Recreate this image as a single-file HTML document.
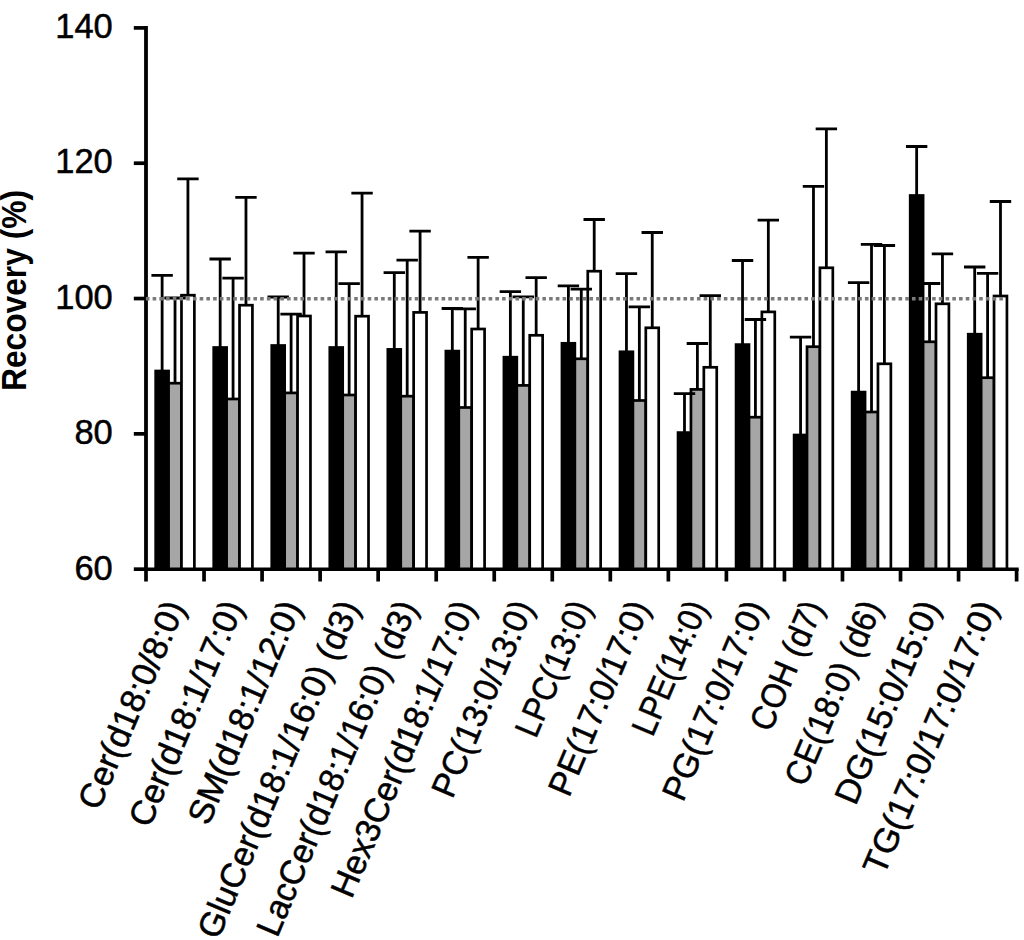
<!DOCTYPE html>
<html><head><meta charset="utf-8"><title>Recovery chart</title>
<style>html,body{margin:0;padding:0;background:#fff;}svg{display:block;}text{font-family:"Liberation Sans",sans-serif;fill:#000;}.t{stroke:#000;stroke-width:0.5;}</style>
</head><body>
<svg width="1024" height="940" viewBox="0 0 1024 940">
<rect width="1024" height="940" fill="#fff"/>
<rect x="155.68" y="371" width="12.9" height="198.35" fill="#000" stroke="#000" stroke-width="2.7"/>
<rect x="168.58" y="383.2" width="12.9" height="186.15" fill="#a6a6a6" stroke="#000" stroke-width="2.7"/>
<rect x="181.48" y="295.2" width="12.9" height="274.15" fill="#fff" stroke="#000" stroke-width="2.7"/>
<rect x="213.72" y="347.5" width="12.9" height="221.85" fill="#000" stroke="#000" stroke-width="2.7"/>
<rect x="226.62" y="399" width="12.9" height="170.35" fill="#a6a6a6" stroke="#000" stroke-width="2.7"/>
<rect x="239.52" y="305.2" width="12.9" height="264.15" fill="#fff" stroke="#000" stroke-width="2.7"/>
<rect x="271.76" y="345.5" width="12.9" height="223.85" fill="#000" stroke="#000" stroke-width="2.7"/>
<rect x="284.66" y="392.9" width="12.9" height="176.45" fill="#a6a6a6" stroke="#000" stroke-width="2.7"/>
<rect x="297.56" y="316" width="12.9" height="253.35" fill="#fff" stroke="#000" stroke-width="2.7"/>
<rect x="329.8" y="347.5" width="12.9" height="221.85" fill="#000" stroke="#000" stroke-width="2.7"/>
<rect x="342.7" y="395" width="12.9" height="174.35" fill="#a6a6a6" stroke="#000" stroke-width="2.7"/>
<rect x="355.6" y="316.2" width="12.9" height="253.15" fill="#fff" stroke="#000" stroke-width="2.7"/>
<rect x="387.84" y="349.4" width="12.9" height="219.95" fill="#000" stroke="#000" stroke-width="2.7"/>
<rect x="400.74" y="396.2" width="12.9" height="173.15" fill="#a6a6a6" stroke="#000" stroke-width="2.7"/>
<rect x="413.64" y="312.4" width="12.9" height="256.95" fill="#fff" stroke="#000" stroke-width="2.7"/>
<rect x="445.88" y="351.1" width="12.9" height="218.25" fill="#000" stroke="#000" stroke-width="2.7"/>
<rect x="458.78" y="407.5" width="12.9" height="161.85" fill="#a6a6a6" stroke="#000" stroke-width="2.7"/>
<rect x="471.68" y="329" width="12.9" height="240.35" fill="#fff" stroke="#000" stroke-width="2.7"/>
<rect x="503.92" y="357.2" width="12.9" height="212.15" fill="#000" stroke="#000" stroke-width="2.7"/>
<rect x="516.82" y="385.4" width="12.9" height="183.95" fill="#a6a6a6" stroke="#000" stroke-width="2.7"/>
<rect x="529.72" y="335.3" width="12.9" height="234.05" fill="#fff" stroke="#000" stroke-width="2.7"/>
<rect x="561.96" y="343.3" width="12.9" height="226.05" fill="#000" stroke="#000" stroke-width="2.7"/>
<rect x="574.86" y="358.8" width="12.9" height="210.55" fill="#a6a6a6" stroke="#000" stroke-width="2.7"/>
<rect x="587.76" y="271.2" width="12.9" height="298.15" fill="#fff" stroke="#000" stroke-width="2.7"/>
<rect x="620" y="351.8" width="12.9" height="217.55" fill="#000" stroke="#000" stroke-width="2.7"/>
<rect x="632.9" y="400.5" width="12.9" height="168.85" fill="#a6a6a6" stroke="#000" stroke-width="2.7"/>
<rect x="645.8" y="327.8" width="12.9" height="241.55" fill="#fff" stroke="#000" stroke-width="2.7"/>
<rect x="678.04" y="432.6" width="12.9" height="136.75" fill="#000" stroke="#000" stroke-width="2.7"/>
<rect x="690.94" y="389.4" width="12.9" height="179.95" fill="#a6a6a6" stroke="#000" stroke-width="2.7"/>
<rect x="703.84" y="367.3" width="12.9" height="202.05" fill="#fff" stroke="#000" stroke-width="2.7"/>
<rect x="736.08" y="344.6" width="12.9" height="224.75" fill="#000" stroke="#000" stroke-width="2.7"/>
<rect x="748.98" y="417.2" width="12.9" height="152.15" fill="#a6a6a6" stroke="#000" stroke-width="2.7"/>
<rect x="761.88" y="311.9" width="12.9" height="257.45" fill="#fff" stroke="#000" stroke-width="2.7"/>
<rect x="794.12" y="435" width="12.9" height="134.35" fill="#000" stroke="#000" stroke-width="2.7"/>
<rect x="807.02" y="346.7" width="12.9" height="222.65" fill="#a6a6a6" stroke="#000" stroke-width="2.7"/>
<rect x="819.92" y="267.8" width="12.9" height="301.55" fill="#fff" stroke="#000" stroke-width="2.7"/>
<rect x="852.16" y="392.1" width="12.9" height="177.25" fill="#000" stroke="#000" stroke-width="2.7"/>
<rect x="865.06" y="412" width="12.9" height="157.35" fill="#a6a6a6" stroke="#000" stroke-width="2.7"/>
<rect x="877.96" y="363.8" width="12.9" height="205.55" fill="#fff" stroke="#000" stroke-width="2.7"/>
<rect x="910.2" y="195.5" width="12.9" height="373.85" fill="#000" stroke="#000" stroke-width="2.7"/>
<rect x="923.1" y="341.8" width="12.9" height="227.55" fill="#a6a6a6" stroke="#000" stroke-width="2.7"/>
<rect x="936" y="303.8" width="12.9" height="265.55" fill="#fff" stroke="#000" stroke-width="2.7"/>
<rect x="968.24" y="334.2" width="12.9" height="235.15" fill="#000" stroke="#000" stroke-width="2.7"/>
<rect x="981.14" y="377.7" width="12.9" height="191.65" fill="#a6a6a6" stroke="#000" stroke-width="2.7"/>
<rect x="994.04" y="296" width="12.9" height="273.35" fill="#fff" stroke="#000" stroke-width="2.7"/>
<path d="M162.13 371V275.4M151.43 275.4H172.83" stroke="#000" stroke-width="2.8" fill="none"/>
<path d="M175.03 383.2V298M164.33 298H185.73" stroke="#000" stroke-width="2.8" fill="none"/>
<path d="M187.93 295.2V178.8M177.23 178.8H198.63" stroke="#000" stroke-width="2.8" fill="none"/>
<path d="M220.17 347.5V259M209.47 259H230.87" stroke="#000" stroke-width="2.8" fill="none"/>
<path d="M233.07 399V278.1M222.37 278.1H243.77" stroke="#000" stroke-width="2.8" fill="none"/>
<path d="M245.97 305.2V197.3M235.27 197.3H256.67" stroke="#000" stroke-width="2.8" fill="none"/>
<path d="M278.21 345.5V297M267.51 297H288.91" stroke="#000" stroke-width="2.8" fill="none"/>
<path d="M291.11 392.9V314.1M280.41 314.1H301.81" stroke="#000" stroke-width="2.8" fill="none"/>
<path d="M304.01 316V253.2M293.31 253.2H314.71" stroke="#000" stroke-width="2.8" fill="none"/>
<path d="M336.25 347.5V251.8M325.55 251.8H346.95" stroke="#000" stroke-width="2.8" fill="none"/>
<path d="M349.15 395V283.7M338.45 283.7H359.85" stroke="#000" stroke-width="2.8" fill="none"/>
<path d="M362.05 316.2V193.2M351.35 193.2H372.75" stroke="#000" stroke-width="2.8" fill="none"/>
<path d="M394.29 349.4V272.6M383.59 272.6H404.99" stroke="#000" stroke-width="2.8" fill="none"/>
<path d="M407.19 396.2V260.1M396.49 260.1H417.89" stroke="#000" stroke-width="2.8" fill="none"/>
<path d="M420.09 312.4V231.1M409.39 231.1H430.79" stroke="#000" stroke-width="2.8" fill="none"/>
<path d="M452.33 351.1V308.5M441.63 308.5H463.03" stroke="#000" stroke-width="2.8" fill="none"/>
<path d="M465.23 407.5V308.8M454.53 308.8H475.93" stroke="#000" stroke-width="2.8" fill="none"/>
<path d="M478.13 329V257.4M467.43 257.4H488.83" stroke="#000" stroke-width="2.8" fill="none"/>
<path d="M510.37 357.2V291.7M499.67 291.7H521.07" stroke="#000" stroke-width="2.8" fill="none"/>
<path d="M523.27 385.4V296.9M512.57 296.9H533.97" stroke="#000" stroke-width="2.8" fill="none"/>
<path d="M536.17 335.3V277.6M525.47 277.6H546.87" stroke="#000" stroke-width="2.8" fill="none"/>
<path d="M568.41 343.3V285.9M557.71 285.9H579.11" stroke="#000" stroke-width="2.8" fill="none"/>
<path d="M581.31 358.8V289.2M570.61 289.2H592.01" stroke="#000" stroke-width="2.8" fill="none"/>
<path d="M594.21 271.2V219.5M583.51 219.5H604.91" stroke="#000" stroke-width="2.8" fill="none"/>
<path d="M626.45 351.8V273.6M615.75 273.6H637.15" stroke="#000" stroke-width="2.8" fill="none"/>
<path d="M639.35 400.5V306.8M628.65 306.8H650.05" stroke="#000" stroke-width="2.8" fill="none"/>
<path d="M652.25 327.8V232.5M641.55 232.5H662.95" stroke="#000" stroke-width="2.8" fill="none"/>
<path d="M684.49 432.6V393.6M673.79 393.6H695.19" stroke="#000" stroke-width="2.8" fill="none"/>
<path d="M697.39 389.4V343.5M686.69 343.5H708.09" stroke="#000" stroke-width="2.8" fill="none"/>
<path d="M710.29 367.3V295.7M699.59 295.7H720.99" stroke="#000" stroke-width="2.8" fill="none"/>
<path d="M742.53 344.6V260.5M731.83 260.5H753.23" stroke="#000" stroke-width="2.8" fill="none"/>
<path d="M755.43 417.2V319.5M744.73 319.5H766.13" stroke="#000" stroke-width="2.8" fill="none"/>
<path d="M768.33 311.9V220.2M757.63 220.2H779.03" stroke="#000" stroke-width="2.8" fill="none"/>
<path d="M800.57 435V337.1M789.87 337.1H811.27" stroke="#000" stroke-width="2.8" fill="none"/>
<path d="M813.47 346.7V186.4M802.77 186.4H824.17" stroke="#000" stroke-width="2.8" fill="none"/>
<path d="M826.37 267.8V128.8M815.67 128.8H837.07" stroke="#000" stroke-width="2.8" fill="none"/>
<path d="M858.61 392.1V282.6M847.91 282.6H869.31" stroke="#000" stroke-width="2.8" fill="none"/>
<path d="M871.51 412V244.3M860.81 244.3H882.21" stroke="#000" stroke-width="2.8" fill="none"/>
<path d="M884.41 363.8V245.5M873.71 245.5H895.11" stroke="#000" stroke-width="2.8" fill="none"/>
<path d="M916.65 195.5V146.5M905.95 146.5H927.35" stroke="#000" stroke-width="2.8" fill="none"/>
<path d="M929.55 341.8V283.5M918.85 283.5H940.25" stroke="#000" stroke-width="2.8" fill="none"/>
<path d="M942.45 303.8V253.8M931.75 253.8H953.15" stroke="#000" stroke-width="2.8" fill="none"/>
<path d="M974.69 334.2V267M963.99 267H985.39" stroke="#000" stroke-width="2.8" fill="none"/>
<path d="M987.59 377.7V273.4M976.89 273.4H998.29" stroke="#000" stroke-width="2.8" fill="none"/>
<path d="M1000.49 296V201.5M989.79 201.5H1011.19" stroke="#000" stroke-width="2.8" fill="none"/>
<path d="M146 26V571.1" stroke="#000" stroke-width="3.8" fill="none"/>
<path d="M144 569.35H1018.7" stroke="#000" stroke-width="3.5" fill="none"/>
<path d="M133.8 27.9H146" stroke="#000" stroke-width="3.7" fill="none"/>
<path d="M133.8 163.22H146" stroke="#000" stroke-width="3.7" fill="none"/>
<path d="M133.8 298.54H146" stroke="#000" stroke-width="3.7" fill="none"/>
<path d="M133.8 433.86H146" stroke="#000" stroke-width="3.7" fill="none"/>
<path d="M133.8 569.18H146" stroke="#000" stroke-width="3.7" fill="none"/>
<path d="M146 569.35V581.5" stroke="#000" stroke-width="3.7" fill="none"/>
<path d="M204.04 569.35V581.5" stroke="#000" stroke-width="3.7" fill="none"/>
<path d="M262.08 569.35V581.5" stroke="#000" stroke-width="3.7" fill="none"/>
<path d="M320.12 569.35V581.5" stroke="#000" stroke-width="3.7" fill="none"/>
<path d="M378.16 569.35V581.5" stroke="#000" stroke-width="3.7" fill="none"/>
<path d="M436.2 569.35V581.5" stroke="#000" stroke-width="3.7" fill="none"/>
<path d="M494.24 569.35V581.5" stroke="#000" stroke-width="3.7" fill="none"/>
<path d="M552.28 569.35V581.5" stroke="#000" stroke-width="3.7" fill="none"/>
<path d="M610.32 569.35V581.5" stroke="#000" stroke-width="3.7" fill="none"/>
<path d="M668.36 569.35V581.5" stroke="#000" stroke-width="3.7" fill="none"/>
<path d="M726.4 569.35V581.5" stroke="#000" stroke-width="3.7" fill="none"/>
<path d="M784.44 569.35V581.5" stroke="#000" stroke-width="3.7" fill="none"/>
<path d="M842.48 569.35V581.5" stroke="#000" stroke-width="3.7" fill="none"/>
<path d="M900.52 569.35V581.5" stroke="#000" stroke-width="3.7" fill="none"/>
<path d="M958.56 569.35V581.5" stroke="#000" stroke-width="3.7" fill="none"/>
<path d="M1016.6 569.35V581.5" stroke="#000" stroke-width="3.7" fill="none"/>
<path d="M145.9 298.7H1004" stroke="#7a7a7a" stroke-width="3.4" stroke-dasharray="3.6 3.12" fill="none"/>
<text class="t" x="112.8" y="37.8" text-anchor="end" font-size="34.5">140</text>
<text class="t" x="112.8" y="173.12" text-anchor="end" font-size="34.5">120</text>
<text class="t" x="112.8" y="309.44" text-anchor="end" font-size="34.5">100</text>
<text class="t" x="112.8" y="443.76" text-anchor="end" font-size="34.5">80</text>
<text class="t" x="112.8" y="580.28" text-anchor="end" font-size="34.5">60</text>
<text class="t" transform="translate(185.82 606.8) rotate(-67)" text-anchor="end" font-size="34.4" textLength="222.61" lengthAdjust="spacingAndGlyphs">Cer(d18:0/8:0)</text>
<text class="t" transform="translate(243.86 606.8) rotate(-67)" text-anchor="end" font-size="34.4" textLength="241.52" lengthAdjust="spacingAndGlyphs">Cer(d18:1/17:0)</text>
<text class="t" transform="translate(301.9 606.8) rotate(-67)" text-anchor="end" font-size="34.4" textLength="239.06" lengthAdjust="spacingAndGlyphs">SM(d18:1/12:0)</text>
<text class="t" transform="translate(359.94 606.8) rotate(-67)" text-anchor="end" font-size="34.4" textLength="362.71" lengthAdjust="spacingAndGlyphs">GluCer(d18:1/16:0) (d3)</text>
<text class="t" transform="translate(417.98 606.8) rotate(-67)" text-anchor="end" font-size="34.4" textLength="360.36" lengthAdjust="spacingAndGlyphs">LacCer(d18:1/16:0) (d3)</text>
<text class="t" transform="translate(476.02 606.8) rotate(-67)" text-anchor="end" font-size="34.4" textLength="318.39" lengthAdjust="spacingAndGlyphs">Hex3Cer(d18:1/17:0)</text>
<text class="t" transform="translate(534.06 606.8) rotate(-67)" text-anchor="end" font-size="34.4" textLength="209.63" lengthAdjust="spacingAndGlyphs">PC(13:0/13:0)</text>
<text class="t" transform="translate(592.1 606.8) rotate(-67)" text-anchor="end" font-size="34.4" textLength="144.16" lengthAdjust="spacingAndGlyphs">LPC(13:0)</text>
<text class="t" transform="translate(650.14 606.8) rotate(-67)" text-anchor="end" font-size="34.4" textLength="207.95" lengthAdjust="spacingAndGlyphs">PE(17:0/17:0)</text>
<text class="t" transform="translate(708.18 606.8) rotate(-67)" text-anchor="end" font-size="34.4" textLength="142.49" lengthAdjust="spacingAndGlyphs">LPE(14:0)</text>
<text class="t" transform="translate(766.22 606.8) rotate(-67)" text-anchor="end" font-size="34.4" textLength="213.28" lengthAdjust="spacingAndGlyphs">PG(17:0/17:0)</text>
<text class="t" transform="translate(824.26 606.8) rotate(-67)" text-anchor="end" font-size="34.4" textLength="137.34" lengthAdjust="spacingAndGlyphs">COH (d7)</text>
<text class="t" transform="translate(882.3 606.8) rotate(-67)" text-anchor="end" font-size="34.4" textLength="196.94" lengthAdjust="spacingAndGlyphs">CE(18:0) (d6)</text>
<text class="t" transform="translate(940.34 606.8) rotate(-67)" text-anchor="end" font-size="34.4" textLength="216.94" lengthAdjust="spacingAndGlyphs">DG(15:0/15:0)</text>
<text class="t" transform="translate(998.38 606.8) rotate(-67)" text-anchor="end" font-size="34.4" textLength="293.29" lengthAdjust="spacingAndGlyphs">TG(17:0/17:0/17:0)</text>
<text transform="translate(25.7 391) rotate(-90)" font-size="34.5" font-weight="bold" textLength="201" lengthAdjust="spacingAndGlyphs">Recovery (%)</text>
</svg>
</body></html>
